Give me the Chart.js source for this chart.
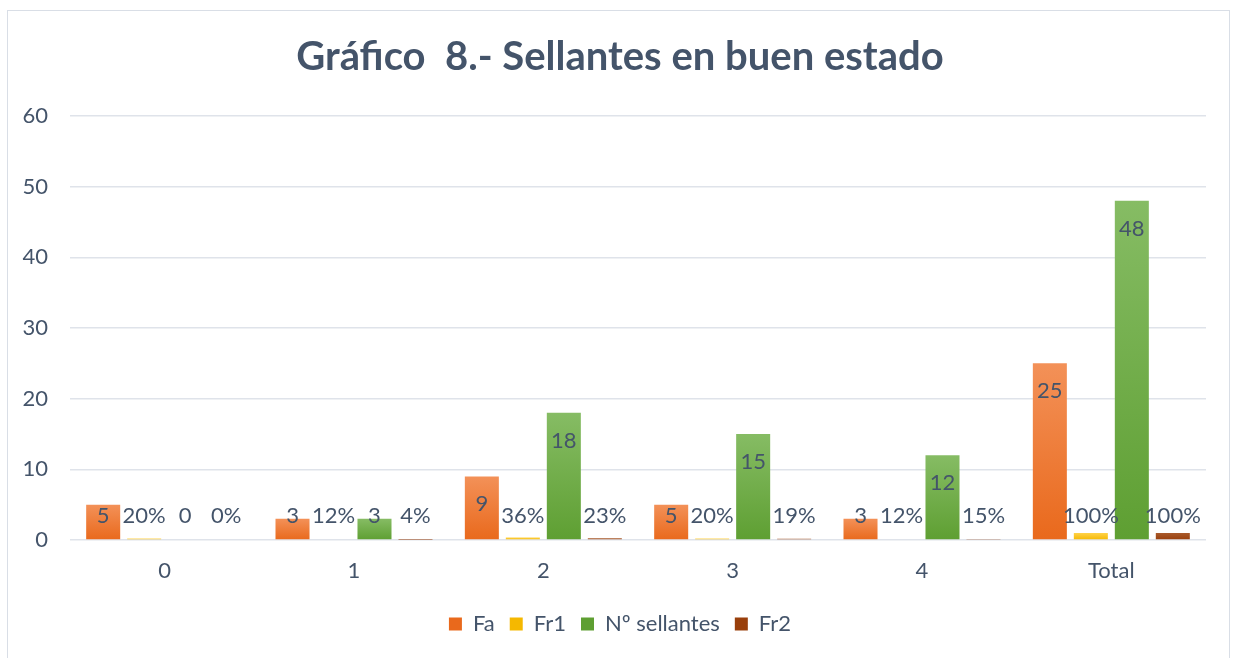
<!DOCTYPE html>
<html lang="es">
<head>
    <meta charset="UTF-8">
    <title>Sellantes en buen estado</title>
    <script src="https://cdn.jsdelivr.net/npm/chart.js"></script>
    <style>
        body { margin: 0; padding: 0; background: #ffffff; }
        #wrap { position: relative; width: 1233px; height: 658px; }
    </style>
</head>
<body>
    <div id="wrap"><canvas id="chart" width="1233" height="658"></canvas></div>

    <script>
        // data
        const categories = ['0', '1', '2', '3', '4', 'Total'];
        const fa = [5, 3, 9, 5, 3, 25];
        const fr1 = [0.20, 0.12, 0.36, 0.20, 0.12, 1.00];
        const sellantes = [0, 3, 18, 15, 12, 48];
        const fr2 = [0, 0.04, 0.23, 0.19, 0.15, 1.00];
        const yTicks = [0, 10, 20, 30, 40, 50, 60];

        const textColor = '#44546a';
        const font = 'Lato';

        // vertical gradient per bar, lighter at the top (like the office style)
        function grad(top, bottom) {
            return function(ctx) {
                const c = ctx.chart;
                if (!c.chartArea || ctx.raw === undefined) return bottom;
                const y = c.scales.y;
                const y0 = y.getPixelForValue(0);
                const y1 = y.getPixelForValue(ctx.raw);
                if (Math.abs(y0 - y1) < 1) return bottom;
                const g = c.ctx.createLinearGradient(0, y1, 0, y0);
                g.addColorStop(0, top);
                g.addColorStop(1, bottom);
                return g;
            };
        }

        const series = [
            { label: 'Fa', data: fa, top: '#f39158', bottom: '#e9691c', pct: false },
            { label: 'Fr1', data: fr1, top: '#ffd24a', bottom: '#f5b800', pct: true },
            { label: 'Nº sellantes', data: sellantes, top: '#86bc64', bottom: '#5e9f32', pct: false },
            { label: 'Fr2', data: fr2, top: '#a95a2c', bottom: '#993f0b', pct: true }
        ];

        // labels on bars, near the top inside, never lower than the common row
        const barLabels = {
            id: 'barLabels',
            afterDatasetsDraw(chart) {
                const ctx = chart.ctx;
                const base = chart.scales.y.getPixelForValue(0);
                ctx.save();
                ctx.font = '22px ' + font;
                ctx.fillStyle = textColor;
                ctx.textAlign = 'center';
                ctx.textBaseline = 'middle';
                chart.data.datasets.forEach((ds, i) => {
                    chart.getDatasetMeta(i).data.forEach((bar, j) => {
                        const v = ds.data[j];
                        const txt = series[i].pct ? Math.round(v * 100) + '%' : String(v);
                        const y = Math.min(bar.y + 28, base - 24);
                        ctx.fillText(txt, bar.x, y);
                    });
                });
                ctx.restore();
            }
        };

        // thin frame around the whole chart
        const frame = {
            id: 'frame',
            beforeDraw(chart) {
                const ctx = chart.ctx;
                ctx.save();
                ctx.strokeStyle = '#d9dee6';
                ctx.lineWidth = 1;
                ctx.strokeRect(7.5, 10.5, 1222, 660);
                ctx.restore();
            }
        };

        const ctx = document.getElementById('chart').getContext('2d');
        new Chart(ctx, {
            type: 'bar',
            data: {
                labels: categories,
                datasets: series.map(s => ({
                    label: s.label,
                    data: s.data,
                    backgroundColor: grad(s.top, s.bottom),
                    borderWidth: 0,
                    categoryPercentage: 0.866,
                    barPercentage: 0.83
                }))
            },
            options: {
                responsive: false,
                animation: false,
                layout: { padding: { left: 7, right: 0, top: 0, bottom: 13 } },
                plugins: {
                    title: {
                        display: true,
                        text: 'Gráfico  8.- Sellantes en buen estado',
                        color: textColor,
                        font: { family: font, size: 40, weight: 'bold' },
                        padding: { top: 33, bottom: 35 }
                    },
                    legend: {
                        position: 'bottom',
                        labels: {
                            color: textColor,
                            font: { family: font, size: 22 },
                            boxWidth: 13,
                            boxHeight: 13,
                            padding: 15,
                            generateLabels: () => series.map((s, i) => ({
                                text: s.label,
                                fillStyle: s.bottom,
                                strokeStyle: s.bottom,
                                lineWidth: 0,
                                fontColor: textColor,
                                datasetIndex: i
                            }))
                        }
                    },
                    tooltip: { enabled: false }
                },
                scales: {
                    x: {
                        grid: { display: false },
                        border: { display: false },
                        ticks: { color: textColor, font: { family: font, size: 22 }, padding: 10 },
                        afterFit: s => { s.height = 58; }
                    },
                    y: {
                        min: 0,
                        max: 60,
                        afterBuildTicks: s => { s.ticks = yTicks.map(v => ({ value: v })); },
                        grid: { color: '#dfe3ea', lineWidth: 1.5, drawTicks: false },
                        border: { display: false },
                        ticks: { color: textColor, font: { family: font, size: 22 }, padding: 22 },
                        afterFit: s => { s.width = 63; }
                    },
                    // empty right margin so the title and legend centre like the original
                    yr: {
                        position: 'right',
                        display: true,
                        min: 0,
                        max: 1,
                        grid: { display: false, drawTicks: false },
                        border: { display: false },
                        ticks: { display: false },
                        afterFit: s => { s.width = 27; }
                    }
                }
            },
            plugins: [frame, barLabels]
        });
    </script>
</body>
</html>
